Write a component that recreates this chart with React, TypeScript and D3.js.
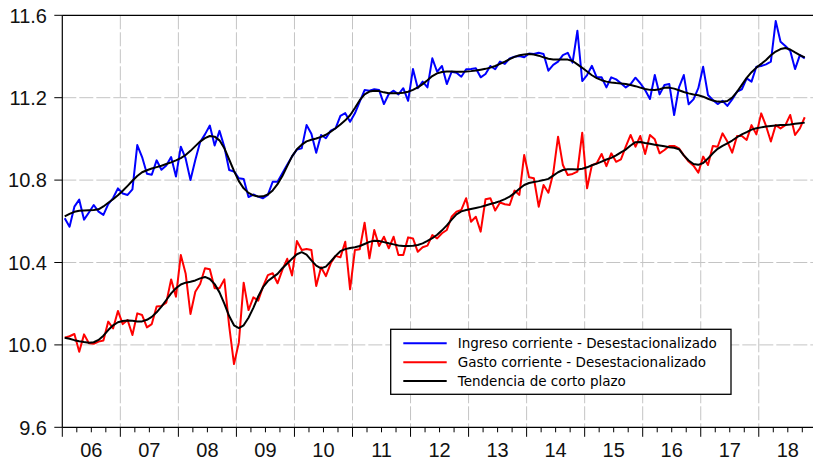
import React from 'react';
import * as d3 from 'd3';

const yearLabels = ['06', '07', '08', '09', '10', '11', '12', '13', '14', '15', '16', '17', '18'];
const yTicks = [9.6, 10.0, 10.4, 10.8, 11.2, 11.6];

// Monthly, 2006M01 - 2018M10 (log values)
const ingreso = [
  10.615, 10.574, 10.671, 10.705, 10.608, 10.643, 10.679, 10.647, 10.631, 10.683, 10.713, 10.760,
  10.735, 10.728, 10.755, 10.970, 10.912, 10.831, 10.826, 10.896, 10.850, 10.871, 10.912, 10.817,
  10.962, 10.905, 10.800, 10.898, 10.985, 11.022, 11.065, 10.968, 11.039, 10.962, 10.849, 10.842,
  10.809, 10.805, 10.718, 10.730, 10.720, 10.712, 10.728, 10.792, 10.792, 10.833, 10.875, 10.915,
  10.948, 10.954, 11.067, 11.025, 10.933, 11.019, 11.003, 11.040, 11.051, 11.112, 11.125, 11.083,
  11.124, 11.181, 11.237, 11.234, 11.241, 11.237, 11.169, 11.218, 11.234, 11.216, 11.246, 11.185,
  11.339, 11.246, 11.278, 11.250, 11.391, 11.326, 11.354, 11.266, 11.326, 11.321, 11.302, 11.338,
  11.339, 11.343, 11.299, 11.315, 11.354, 11.338, 11.375, 11.364, 11.391, 11.399, 11.402, 11.396,
  11.415, 11.412, 11.418, 11.412, 11.331, 11.359, 11.375, 11.407, 11.418, 11.370, 11.525, 11.281,
  11.310, 11.355, 11.299, 11.299, 11.250, 11.299, 11.289, 11.270, 11.250, 11.266, 11.297, 11.270,
  11.237, 11.194, 11.310, 11.216, 11.262, 11.266, 11.116, 11.250, 11.310, 11.168, 11.192, 11.246,
  11.350, 11.213, 11.189, 11.169, 11.185, 11.160, 11.192, 11.229, 11.241, 11.294, 11.278, 11.350,
  11.354, 11.362, 11.375, 11.572, 11.472, 11.451, 11.428, 11.339, 11.407, 11.391,
];

const gasto = [
  10.035, 10.042, 10.053, 9.967, 10.051, 10.008, 10.005, 10.016, 10.021, 10.113, 10.080, 10.165,
  10.101, 10.121, 10.048, 10.153, 10.145, 10.085, 10.101, 10.186, 10.189, 10.205, 10.318, 10.234,
  10.436, 10.347, 10.150, 10.258, 10.296, 10.372, 10.367, 10.275, 10.275, 10.318, 10.092, 9.907,
  10.011, 10.302, 10.169, 10.231, 10.215, 10.283, 10.339, 10.348, 10.299, 10.364, 10.418, 10.337,
  10.504, 10.461, 10.466, 10.461, 10.286, 10.377, 10.334, 10.396, 10.432, 10.425, 10.501, 10.270,
  10.461, 10.464, 10.593, 10.420, 10.558, 10.480, 10.525, 10.469, 10.525, 10.436, 10.436, 10.522,
  10.517, 10.452, 10.474, 10.482, 10.533, 10.517, 10.542, 10.558, 10.622, 10.647, 10.655, 10.712,
  10.598, 10.622, 10.550, 10.707, 10.712, 10.652, 10.691, 10.683, 10.679, 10.749, 10.728, 10.922,
  10.814, 10.809, 10.671, 10.776, 10.739, 10.833, 11.011, 10.873, 10.825, 10.830, 10.841, 11.030,
  10.760, 10.873, 10.882, 10.927, 10.868, 10.930, 10.889, 10.901, 10.962, 11.019, 10.962, 11.014,
  10.927, 11.019, 10.998, 10.930, 10.946, 10.966, 10.966, 10.954, 10.920, 10.890, 10.870, 10.836,
  10.914, 10.873, 10.965, 10.962, 11.027, 10.987, 10.933, 11.014, 11.014, 10.995, 11.067, 11.022,
  11.124, 11.063, 10.987, 11.067, 11.051, 11.067, 11.116, 11.019, 11.051, 11.105,
];

const tendenciaIngreso = [
  10.624, 10.636, 10.646, 10.651, 10.653, 10.654, 10.655, 10.658, 10.672, 10.690, 10.707, 10.726,
  10.748, 10.772, 10.797, 10.820, 10.838, 10.848, 10.856, 10.863, 10.870, 10.878, 10.886, 10.896,
  10.907, 10.922, 10.942, 10.965, 10.987, 11.004, 11.014, 11.011, 10.993, 10.955, 10.900, 10.845,
  10.795, 10.760, 10.738, 10.726, 10.720, 10.721, 10.730, 10.750, 10.780, 10.820, 10.868, 10.915,
  10.950, 10.972, 10.988, 10.996, 11.002, 11.010, 11.020, 11.035, 11.052, 11.070, 11.090, 11.115,
  11.150, 11.188, 11.216, 11.230, 11.234, 11.232, 11.226, 11.222, 11.221, 11.222, 11.224, 11.229,
  11.238, 11.250, 11.266, 11.285, 11.305, 11.318, 11.325, 11.327, 11.327, 11.326, 11.326, 11.327,
  11.329, 11.332, 11.336, 11.340, 11.346, 11.354, 11.364, 11.375, 11.387, 11.398, 11.406, 11.410,
  11.412, 11.410, 11.404, 11.396, 11.389, 11.386, 11.386, 11.386, 11.385, 11.378, 11.362, 11.345,
  11.327, 11.309, 11.295, 11.285, 11.278, 11.274, 11.271, 11.269, 11.266, 11.262, 11.256, 11.249,
  11.242, 11.238, 11.237, 11.241, 11.248, 11.249, 11.244, 11.236, 11.228, 11.221, 11.216, 11.212,
  11.205, 11.195, 11.186, 11.181, 11.180, 11.184, 11.200, 11.228, 11.262, 11.296, 11.324, 11.346,
  11.364, 11.383, 11.406, 11.424, 11.436, 11.441, 11.434, 11.420, 11.407, 11.396,
];

const tendenciaGasto = [
  10.035, 10.030, 10.023, 10.018, 10.014, 10.011, 10.013, 10.024, 10.045, 10.072, 10.095, 10.110,
  10.116, 10.118, 10.117, 10.114, 10.114, 10.122, 10.136, 10.158, 10.186, 10.218, 10.250, 10.275,
  10.293, 10.302, 10.307, 10.313, 10.323, 10.330, 10.320, 10.295, 10.255, 10.200, 10.140, 10.095,
  10.082, 10.095, 10.132, 10.180, 10.235, 10.280, 10.310, 10.328, 10.345, 10.372, 10.395, 10.418,
  10.440, 10.450, 10.438, 10.410, 10.385, 10.372, 10.380, 10.405, 10.432, 10.455, 10.465, 10.470,
  10.474, 10.480, 10.490, 10.500, 10.506, 10.504, 10.499, 10.493, 10.488, 10.483, 10.480, 10.480,
  10.481, 10.485, 10.493, 10.505, 10.518, 10.535, 10.556, 10.580, 10.608, 10.634, 10.648, 10.655,
  10.660, 10.665, 10.670, 10.677, 10.684, 10.690, 10.698, 10.708, 10.720, 10.737, 10.758, 10.776,
  10.786, 10.791, 10.795, 10.800, 10.806, 10.822, 10.838, 10.849, 10.853, 10.853, 10.852, 10.855,
  10.862, 10.872, 10.880, 10.890, 10.900, 10.908, 10.920, 10.935, 10.948, 10.968, 10.984, 10.985,
  10.980, 10.976, 10.972, 10.968, 10.964, 10.960, 10.957, 10.950, 10.920, 10.895, 10.878, 10.874,
  10.883, 10.905, 10.930, 10.952, 10.966, 10.978, 10.992, 11.008, 11.022, 11.033, 11.045, 11.052,
  11.056, 11.060, 11.063, 11.065, 11.067, 11.068, 11.070, 11.073, 11.076, 11.079,
];

const legendLabels = [
  'Ingreso corriente - Desestacionalizado',
  'Gasto corriente - Desestacionalizado',
  'Tendencia de corto plazo',
];
const legendColors = ['#0000ff', '#ff0000', '#000000'];

export default function App() {
  const W = 813;
  const H = 460;
  const left = 62.3;
  const top = 15.3;
  const bottom = 427.3;
  const monthW = 58.04 / 12;
  const totalMonths = yearLabels.length * 12;
  const right = left + totalMonths * monthW;

  const x = d3.scaleLinear().domain([0, totalMonths]).range([left, right]);
  const y = d3.scaleLinear().domain([9.6, 11.6]).range([bottom, top]);

  const line = d3
    .line<number>()
    .x((_, i) => x(i + 0.5))
    .y((d) => y(d));

  const axisFont = '"Liberation Sans", Arial, sans-serif';
  const gridColor = '#c4c4c4';

  const quarterTicks = d3.range(0, totalMonths + 1, 3);
  const yearBounds = d3.range(12, totalMonths, 12);

  return (
    <svg
      width={W}
      height={H}
      style={{ position: 'absolute', left: 0, top: 0, background: '#fff' }}
    >
      <defs>
        <clipPath id="plotClip">
          <rect x={left} y={top} width={right - left} height={bottom - top} />
        </clipPath>
      </defs>

      {/* grid */}
      {yTicks
        .filter((t) => t > 9.6 && t < 11.6)
        .map((t) => (
          <line
            key={'hg' + t}
            x1={left}
            x2={right}
            y1={y(t)}
            y2={y(t)}
            stroke={gridColor}
            strokeWidth={1}
            strokeDasharray="14 3"
          />
        ))}
      {yearBounds.map((m) => (
        <line
          key={'vg' + m}
          x1={x(m)}
          x2={x(m)}
          y1={top}
          y2={bottom}
          stroke={gridColor}
          strokeWidth={1}
          strokeDasharray="14 3"
        />
      ))}

      {/* series */}
      <g clipPath="url(#plotClip)" fill="none" strokeLinejoin="round">
        <path d={line(ingreso) || ''} stroke="#0000ff" strokeWidth={2} />
        <path d={line(gasto) || ''} stroke="#ff0000" strokeWidth={2} />
        <path d={line(tendenciaIngreso) || ''} stroke="#000" strokeWidth={2} />
        <path d={line(tendenciaGasto) || ''} stroke="#000" strokeWidth={2} />
      </g>

      {/* frame / axes */}
      <line x1={left} x2={right} y1={top} y2={top} stroke="#000" strokeWidth={1.2} />
      <line x1={left} x2={left} y1={top} y2={bottom} stroke="#000" strokeWidth={1.2} />
      <line x1={left} x2={right} y1={bottom} y2={bottom} stroke="#000" strokeWidth={1.2} />

      {/* y ticks */}
      {yTicks.map((t) => (
        <g key={'yt' + t}>
          <line x1={left - 8} x2={left} y1={y(t)} y2={y(t)} stroke="#000" strokeWidth={1} />
          <text
            x={47}
            y={y(t) + 7.3}
            textAnchor="end"
            fontFamily={axisFont}
            fontSize={20}
            fill="#111"
          >
            {t.toFixed(1)}
          </text>
        </g>
      ))}

      {/* x ticks */}
      {quarterTicks.map((m) => (
        <line
          key={'xt' + m}
          x1={x(m)}
          x2={x(m)}
          y1={bottom}
          y2={bottom + (m % 12 === 0 ? 9.5 : 5)}
          stroke="#000"
          strokeWidth={1}
        />
      ))}
      {yearLabels.map((lab, k) => (
        <text
          key={'xl' + lab}
          x={x(k * 12 + 6)}
          y={456.5}
          textAnchor="middle"
          fontFamily={axisFont}
          fontSize={20}
          fill="#111"
        >
          {lab}
        </text>
      ))}

      {/* legend */}
      <g>
        <rect
          x={390.7}
          y={329.3}
          width={340.3}
          height={65}
          fill="#fff"
          stroke="#000"
          strokeWidth={1.3}
        />
        {legendLabels.map((lab, k) => {
          const ry = 343.3 + k * 18.9;
          return (
            <g key={lab}>
              <line x1={403.3} x2={446.7} y1={ry} y2={ry} stroke={legendColors[k]} strokeWidth={2} />
              <text
                x={457.7}
                y={ry + 4.8}
                fontFamily='"DejaVu Sans", Verdana, sans-serif'
                fontSize={13.5}
                fill="#000"
              >
                {lab}
              </text>
            </g>
          );
        })}
      </g>
    </svg>
  );
}
